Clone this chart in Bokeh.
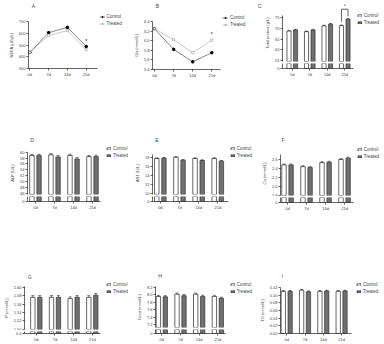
from bokeh.plotting import figure
from bokeh.layouts import row, column
from bokeh.models import Range1d, FixedTicker, Label, Legend, LegendItem, NumeralTickFormatter
from bokeh.core.properties import value
from bokeh.embed import file_html
from bokeh.resources import INLINE

FONT = "Liberation Sans"
CTRL_LINE = "#333333"
TRT_LINE = "#a6a6a6"
TRT_FILL = "#707070"

# ---------------- data ----------------
days = [0, 7, 14, 21]
day_labels = ["0d", "7d", "14d", "21d"]
groups = [0, 1, 2, 3]

nefa_control = [437, 605, 650, 487]
nefa_treated = [437, 582, 622, 460]
nefa_ticks = [300, 400, 500, 600, 700]

glu_control = [6.25, 5.82, 5.56, 5.75]
glu_treated = [6.25, 6.02, 5.75, 6.01]
glu_ticks = [5.4, 5.6, 5.8, 6.0, 6.2, 6.4]

tp_control = [68.8, 68.5, 71.2, 71.3]
tp_treated = [69.3, 69.3, 72.0, 74.3]
tp_err_c = [0.3, 0.3, 0.3, 0.3]
tp_err_t = [0.3, 0.3, 0.3, 0.4]
tp_ticks = [55, 60, 65, 70, 75]

alp_control = [58.9, 59.1, 58.9, 58.5]
alp_treated = [58.9, 58.4, 57.7, 58.5]
alp_err_c = [0.4, 0.4, 0.4, 0.4]
alp_err_t = [0.4, 0.5, 0.5, 0.5]
alp_ticks = [46, 48, 50, 52, 54, 56, 58, 60]

ast_control = [17.78, 18.07, 17.78, 17.78]
ast_treated = [17.85, 17.41, 17.34, 17.19]
ast_err_c = [0.15, 0.15, 0.15, 0.15]
ast_err_t = [0.15, 0.15, 0.15, 0.15]
ast_ticks = [10, 12, 14, 16, 18]

ca_control = [2.48, 2.44, 2.53, 2.60]
ca_treated = [2.48, 2.42, 2.54, 2.63]
ca_err_c = [0.02, 0.02, 0.02, 0.02]
ca_err_t = [0.02, 0.02, 0.02, 0.02]
ca_ticks = [1.8, 2.0, 2.2, 2.4, 2.6]

p_control = [1.576, 1.576, 1.573, 1.576]
p_treated = [1.576, 1.576, 1.576, 1.581]
p_err_c = [0.004, 0.004, 0.004, 0.004]
p_err_t = [0.004, 0.004, 0.004, 0.004]
p_ticks = [1.50, 1.52, 1.54, 1.56, 1.58, 1.60]

urea_control = [7.96, 8.02, 8.02, 7.96]
urea_treated = [7.95, 7.98, 7.96, 7.91]
urea_err_c = [0.03, 0.03, 0.03, 0.03]
urea_err_t = [0.03, 0.03, 0.03, 0.03]
urea_ticks = [7.2, 7.4, 7.6, 7.8, 8.0, 8.2]

tg_control = [0.110, 0.113, 0.110, 0.110]
tg_treated = [0.110, 0.109, 0.111, 0.111]
tg_err_c = [0.002, 0.002, 0.002, 0.002]
tg_err_t = [0.002, 0.002, 0.002, 0.002]
tg_ticks = [0.00, 0.02, 0.04, 0.06, 0.08, 0.10, 0.12]

# ---------------- helpers ----------------
BW = 0.235
OFF = 0.187
CAP = 0.08


def style_axis(ax):
    ax.axis_line_width = 0.6
    ax.axis_line_color = "black"
    ax.major_tick_line_width = 0.6
    ax.major_tick_out = 2
    ax.major_tick_in = 0
    ax.minor_tick_line_color = None
    ax.major_label_text_font = FONT
    ax.major_label_text_font_size = "4px"
    ax.major_label_standoff = 1
    ax.axis_label_text_font = FONT
    ax.axis_label_text_font_size = "4px"
    ax.axis_label_text_font_style = "normal"
    ax.axis_label_standoff = 2


def make_fig(w, h, left, right, top, bottom, xr, yr, xaxis=True):
    p = figure(width=w, height=h, x_range=Range1d(*xr), y_range=Range1d(*yr),
               min_border_left=left, min_border_right=right,
               min_border_top=top, min_border_bottom=bottom,
               output_backend="svg", toolbar_location=None, tools="",
               x_axis_location="below" if xaxis else None)
    p.grid.visible = False
    p.outline_line_color = None
    p.background_fill_color = "white"
    p.border_fill_color = "white"
    for ax in p.axis:
        style_axis(ax)
    return p


def blank_fig(w, h):
    p = figure(width=w, height=h, x_range=Range1d(-100, -99), y_range=Range1d(-100, -99),
               min_border_left=0, min_border_right=0, min_border_top=0, min_border_bottom=0,
               output_backend="svg", toolbar_location=None, tools="",
               x_axis_location=None, y_axis_location=None)
    p.grid.visible = False
    p.outline_line_color = None
    p.background_fill_color = "white"
    p.border_fill_color = "white"
    return p


def letter_strip(w, h, items):
    p = blank_fig(w, h)
    for letter, x, y in items:
        p.add_layout(Label(x=x, y=y, x_units="screen", y_units="screen", text=letter,
                           text_font=FONT, text_font_size="5px", text_baseline="middle",
                           text_align="left"))
    return p


def legend_fig(w, h, kind, ctrl, trt, loc, extra_letters=()):
    p = blank_fig(w, h)
    if kind == "bar":
        rc = p.vbar(x=groups, top=ctrl, bottom=0, width=BW, fill_color="white",
                    line_color="black", line_width=0.6)
        rt = p.vbar(x=groups, top=trt, bottom=0, width=BW, fill_color=TRT_FILL,
                    line_color="#222222", line_width=0.6)
        items = [LegendItem(label="Control", renderers=[rc]),
                 LegendItem(label="Treated", renderers=[rt])]
        gw, gh = 5, 3
    else:
        lc = p.line(days, ctrl, line_color=CTRL_LINE, line_width=0.6)
        sc = p.scatter(days, ctrl, marker="circle", size=2.6, fill_color="black", line_color="black")
        lt = p.line(days, trt, line_color=TRT_LINE, line_width=0.6)
        st = p.scatter(days, trt, marker="square", size=2.2, fill_color="white",
                       line_color="#888888", line_width=0.5)
        items = [LegendItem(label="Control", renderers=[lc, sc]),
                 LegendItem(label="Treated", renderers=[lt, st])]
        gw, gh = 6, 3
    leg = Legend(items=items, location=loc, label_text_font=FONT,
                 label_text_font_size="4.5px", glyph_width=gw, glyph_height=gh,
                 label_height=5, label_standoff=2, spacing=2, padding=0, margin=0,
                 border_line_color=None, background_fill_alpha=0)
    p.add_layout(leg)
    for letter, x, y in extra_letters:
        p.add_layout(Label(x=x, y=y, x_units="screen", y_units="screen", text=letter,
                           text_font=FONT, text_font_size="5px", text_baseline="middle",
                           text_align="left"))
    return p


def draw_bars(p, ctrl, trt, ec=None, et=None):
    xc = [g - OFF for g in groups]
    xt = [g + OFF for g in groups]
    p.vbar(x=xc, top=ctrl, bottom=0, width=BW, fill_color="white",
           line_color="black", line_width=0.6)
    p.vbar(x=xt, top=trt, bottom=0, width=BW, fill_color=TRT_FILL,
           line_color="#222222", line_width=0.6)
    if ec is not None:
        for xs, vals, errs in ((xc, ctrl, ec), (xt, trt, et)):
            tops = [v + e for v, e in zip(vals, errs)]
            p.segment(x0=xs, y0=vals, x1=xs, y1=tops, line_color="black", line_width=0.5)
            p.segment(x0=[x - CAP for x in xs], y0=tops, x1=[x + CAP for x in xs], y1=tops,
                      line_color="black", line_width=0.5)


def bar_pair(ylabel, ctrl, trt, ec, et, ticks, fmt, g):
    up = make_fig(g["w"], g["up_h"], g["left"], 1, g["up_top"], g["up_bottom"],
                  g["xr"], g["yr"], xaxis=False)
    up.yaxis.ticker = FixedTicker(ticks=ticks)
    up.yaxis.formatter = NumeralTickFormatter(format=fmt)
    up.yaxis.axis_label = ylabel
    up.yaxis.bounds = g["bounds"]
    draw_bars(up, ctrl, trt, ec, et)

    low = make_fig(g["w"], g["low_h"], g["left"], 1, g["low_top"], g["low_bottom"],
                   g["xr"], (0, 1))
    low.yaxis.ticker = FixedTicker(ticks=[0])
    low.yaxis.formatter = NumeralTickFormatter(format=g.get("zero_fmt", "0"))
    low.xaxis.ticker = FixedTicker(ticks=groups)
    low.xaxis.major_label_overrides = dict(zip(groups, day_labels))
    draw_bars(low, ctrl, trt)
    return up, low


def line_fig(w, h, left, top, bottom, xr, yr, ylabel, ticks, fmt, ctrl, trt, star_gap):
    p = make_fig(w, h, left, 1, top, bottom, xr, yr)
    p.yaxis.ticker = FixedTicker(ticks=ticks)
    p.yaxis.formatter = NumeralTickFormatter(format=fmt)
    p.yaxis.axis_label = ylabel
    p.xaxis.ticker = FixedTicker(ticks=days)
    p.xaxis.major_label_overrides = dict(zip(days, day_labels))
    p.line(days, ctrl, line_color=CTRL_LINE, line_width=0.6)
    p.scatter(days, ctrl, marker="circle", size=2.6, fill_color="black", line_color="black")
    p.line(days, trt, line_color=TRT_LINE, line_width=0.6)
    p.scatter(days, trt, marker="square", size=2.2, fill_color="white", line_color="#888888",
              line_width=0.5)
    p.text(x=[days[3]], y=[max(ctrl[3], trt[3]) + star_gap], text=["*"],
           text_font=value(FONT), text_font_size="5px", text_align="center", text_baseline="middle")
    return p


# ---------------- Row 1 ----------------
pA = line_fig(98, 118, 28, 9, 62, (-0.5, 25.2), (300, 700), "NEFA (μEq/L)", nefa_ticks, "0",
              nefa_control, nefa_treated, 45)
panelA = row(column(letter_strip(98, 12, [("A", 3.3, 6.3)]), pA),
             legend_fig(30, 130, "line", nefa_control, nefa_treated, (0.5, 104.5)))

pB = line_fig(93, 118, 24, 9, 61, (-0.74, 24.2), (5.4, 6.4), "Glu (mmol/L)", glu_ticks, "0.0",
              glu_control, glu_treated, 0.14)
panelB = row(column(letter_strip(93, 12, [("B", 3.3, 6.3)]), pB),
             legend_fig(41, 130, "line", glu_control, glu_treated, (1, 103.5),
                        extra_letters=[("C", 36.5, 124.3)]))

gC = dict(w=92, up_h=63, low_h=67, left=15, up_top=4, up_bottom=2, low_top=0, low_bottom=62,
          xr=(-0.56, 3.5), yr=(54.53, 81.2), bounds=(54.53, 76))
cU, cL = bar_pair("Total protein (g/L)", tp_control, tp_treated, tp_err_c, tp_err_t, tp_ticks, "0", gC)
i = 3
top_c = tp_control[i] + tp_err_c[i]
top_t = tp_treated[i] + tp_err_t[i]
br_y = top_t + 4.3
cU.multi_line(xs=[[groups[i] - OFF, groups[i] - OFF, groups[i] + OFF, groups[i] + OFF]],
              ys=[[top_c + 1.5, br_y, br_y, top_t + 1.0]], line_color="black", line_width=0.6)
cU.text(x=[groups[i]], y=[br_y + 1.3], text=["*"], text_font=value(FONT), text_font_size="5px",
        text_align="center", text_baseline="middle")
panelC = row(column(cU, cL), legend_fig(30, 130, "bar", tp_control, tp_treated, (2.7, 104.8)))

# ---------------- Row 2 ----------------
gD = dict(w=101, up_h=51, low_h=67, left=27, up_top=7, up_bottom=1, low_top=1, low_bottom=61,
          xr=(-0.42, 3.42), yr=(45.56, 60.24), bounds=(45.56, 60.0))
dU, dL = bar_pair("ALP (U/L)", alp_control, alp_treated, alp_err_c, alp_err_t, alp_ticks, "0", gD)
panelD = row(column(letter_strip(101, 14, [("D", 2.7, 5)]), dU, dL),
             legend_fig(27, 132, "bar", alp_control, alp_treated, (5, 103.8)))

gE = dict(w=101, up_h=51, low_h=67, left=24, up_top=7, up_bottom=1, low_top=1, low_bottom=61,
          xr=(-0.41, 3.56), yr=(9.85, 19.32), bounds=(9.85, 18.6))
eU, eL = bar_pair("AST (U/L)", ast_control, ast_treated, ast_err_c, ast_err_t, ast_ticks, "0", gE)
panelE = row(column(letter_strip(101, 14, [("E", 2.7, 5)]), eU, eL),
             legend_fig(27, 132, "bar", ast_control, ast_treated, (0.7, 103.8)))

gF = dict(w=98, up_h=52, low_h=66, left=24, up_top=7, up_bottom=1, low_top=1, low_bottom=60,
          xr=(-0.37, 3.47), yr=(1.798, 2.778), bounds=(1.798, 2.71))
fU, fL = bar_pair("Ca (mmol/L)", ca_control, ca_treated, ca_err_c, ca_err_t, ca_ticks, "0.0", gF)
panelF = row(column(letter_strip(98, 14, [("F", 1, 5)]), fU, fL),
             legend_fig(30, 132, "bar", ca_control, ca_treated, (2.7, 103.2)))

# ---------------- Row 3 ----------------
gG = dict(w=101, up_h=50, low_h=14, left=23, up_top=6, up_bottom=1, low_top=1, low_bottom=10,
          xr=(-0.635, 3.44), yr=(1.4995, 1.6016), bounds=(1.4995, 1.6016), zero_fmt="0.0")
gU, gL = bar_pair("P (mmol/L)", p_control, p_treated, p_err_c, p_err_t, p_ticks, "0.00", gG)
panelG = row(column(letter_strip(101, 18, [("G", 3.3, 4)]), gU, gL),
             legend_fig(27, 82, "bar", p_control, p_treated, (5, 50.5)))

gH = dict(w=98, up_h=48, low_h=16, left=27, up_top=6, up_bottom=1, low_top=1, low_bottom=10,
          xr=(-0.34, 3.41), yr=(7.128, 8.227), bounds=(7.128, 8.227))
hU, hL = bar_pair("Urea (mmol/L)", urea_control, urea_treated, urea_err_c, urea_err_t,
                  urea_ticks, "0.0", gH)
panelH = row(column(letter_strip(98, 18, [("H", 2.7, 5)]), hU, hL),
             legend_fig(30, 82, "bar", urea_control, urea_treated, (3.7, 50.5)))

pI = make_fig(96, 64, 23, 1, 7, 10, (-0.34, 3.54), (0, 0.12))
pI.yaxis.ticker = FixedTicker(ticks=tg_ticks)
pI.yaxis.formatter = NumeralTickFormatter(format="0.00")
pI.yaxis.axis_label = "TG (mmol/L)"
pI.xaxis.ticker = FixedTicker(ticks=groups)
pI.xaxis.major_label_overrides = dict(zip(groups, day_labels))
draw_bars(pI, tg_control, tg_treated, tg_err_c, tg_err_t)
panelI = row(column(letter_strip(96, 18, [("I", 1, 5)]), pI),
             legend_fig(32, 82, "bar", tg_control, tg_treated, (4, 50.5)))

layout = column(
    row(panelA, panelB, panelC),
    row(panelD, panelE, panelF),
    row(panelG, panelH, panelI),
)

open("out.html", "w").write(file_html(layout, INLINE))
